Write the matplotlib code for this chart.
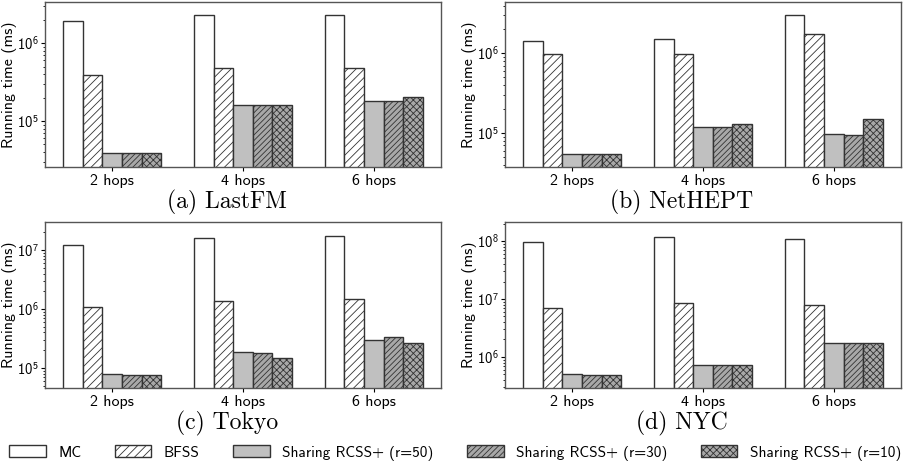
import matplotlib
matplotlib.use("Agg")
import matplotlib.pyplot as plt
import numpy as np

plt.rcParams['mathtext.fontset'] = 'custom'
plt.rcParams['mathtext.rm'] = 'cmss10'
plt.rcParams['mathtext.it'] = 'cmss10'
plt.rcParams['mathtext.bf'] = 'cmss10'
plt.rcParams['hatch.linewidth'] = 0.6
plt.rcParams['font.family'] = ['cmss10', 'DejaVu Sans']
plt.rcParams['axes.unicode_minus'] = False

hops = ["2 hops", "4 hops", "6 hops"]
methods = ["MC", "BFSS", "Sharing RCSS+ (r=50)", "Sharing RCSS+ (r=30)", "Sharing RCSS+ (r=10)"]
captions = ["(a) LastFM", "(b) NetHEPT", "(c) Tokyo", "(d) NYC"]

lastfm_mc = [1.92e6, 2.26e6, 2.26e6]
lastfm_bfss = [3.9e5, 4.8e5, 4.8e5]
lastfm_r50 = [3.9e4, 1.59e5, 1.82e5]
lastfm_r30 = [3.9e4, 1.59e5, 1.82e5]
lastfm_r10 = [3.9e4, 1.59e5, 2.03e5]

nethept_mc = [1.42e6, 1.50e6, 3.0e6]
nethept_bfss = [9.8e5, 9.8e5, 1.75e6]
nethept_r50 = [5.5e4, 1.19e5, 9.6e4]
nethept_r30 = [5.5e4, 1.19e5, 9.4e4]
nethept_r10 = [5.5e4, 1.31e5, 1.5e5]

tokyo_mc = [1.22e7, 1.6e7, 1.71e7]
tokyo_bfss = [1.09e6, 1.37e6, 1.5e6]
tokyo_r50 = [8.0e4, 1.83e5, 3.0e5]
tokyo_r30 = [7.7e4, 1.78e5, 3.29e5]
tokyo_r10 = [7.7e4, 1.48e5, 2.63e5]

nyc_mc = [9.7e7, 1.19e8, 1.08e8]
nyc_bfss = [6.9e6, 8.5e6, 7.8e6]
nyc_r50 = [5.0e5, 7.3e5, 1.73e6]
nyc_r30 = [4.9e5, 7.3e5, 1.73e6]
nyc_r10 = [4.9e5, 7.3e5, 1.73e6]

datasets = [
    [lastfm_mc, lastfm_bfss, lastfm_r50, lastfm_r30, lastfm_r10],
    [nethept_mc, nethept_bfss, nethept_r50, nethept_r30, nethept_r10],
    [tokyo_mc, tokyo_bfss, tokyo_r50, tokyo_r30, tokyo_r10],
    [nyc_mc, nyc_bfss, nyc_r50, nyc_r30, nyc_r10],
]
ylims = [(2.57e4, 3.36e6), (3.73e4, 4.43e6), (4.57e4, 2.99e7), (2.91e5, 2.13e8)]

facecolors = ["white", "white", "#c0c0c0", "#a8a8a8", "#a8a8a8"]
hatches = [None, "////", None, "//////", "xxxxx"]
edge = "#333333"

fig = plt.figure(figsize=(9.1, 4.68), dpi=100)
positions = [
    (45/910, 1-167/468, 396/910, 165/468),
    (505/910, 1-167/468, 396/910, 165/468),
    (45/910, 1-388/468, 396/910, 166/468),
    (505/910, 1-388/468, 396/910, 166/468),
]
cap_pos = [(227/910, 1-202/468), (682/910, 1-202/468), (227/910, 1-423/468), (682/910, 1-423/468)]

x = np.arange(len(hops))
w = 0.15
handles = []
for i, (pos, data) in enumerate(zip(positions, datasets)):
    ax = fig.add_axes(pos)
    for j, vals in enumerate(data):
        b = ax.bar(x + (j - 2) * w, vals, w, color=facecolors[j], edgecolor=edge,
                   linewidth=1.0, hatch=hatches[j], label=methods[j])
        if i == 0:
            handles.append(b)
    ax.set_yscale('log')
    ax.set_ylim(*ylims[i])
    ax.set_xticks(x)
    ax.set_xticklabels(hops, fontsize=11.5)
    ax.tick_params(axis='y', which='major', labelsize=10.5, length=3, pad=1.5)
    ax.tick_params(axis='y', which='minor', length=1.5)
    ax.tick_params(axis='x', length=3, pad=2)
    ax.set_ylabel("Running time (ms)", fontsize=11.5)
    ax.yaxis.set_label_coords(-0.071, 0.5)
    for s in ax.spines.values():
        s.set_color("#555555")
        s.set_linewidth(1.0)
    fig.text(cap_pos[i][0], cap_pos[i][1], captions[i], ha='center', va='center',
             fontsize=17, family='cmr10')

fig.legend(handles, methods, loc='center', bbox_to_anchor=(0.5, 1-453/468), ncol=5,
           frameon=False, fontsize=11, handlelength=2.4, handleheight=0.8,
           columnspacing=2.2, borderaxespad=0, handletextpad=0.8)

fig.savefig("out.png", dpi=100)
